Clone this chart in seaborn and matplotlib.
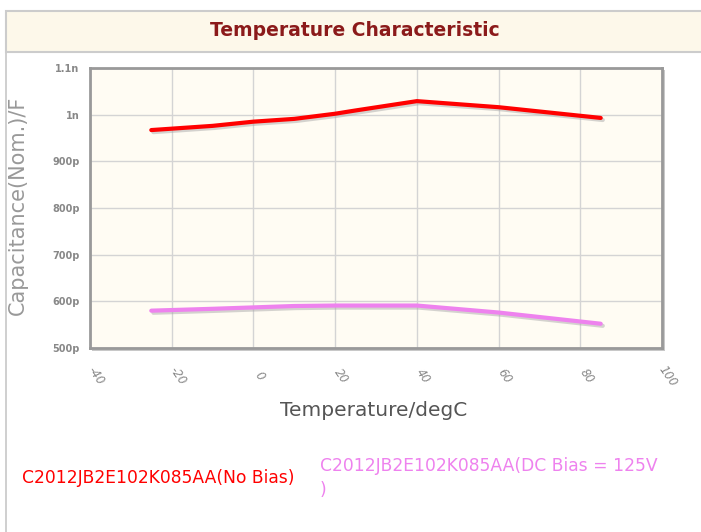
import numpy as np
import pandas as pd
import matplotlib
matplotlib.use("Agg")
import matplotlib.pyplot as plt
import matplotlib.patheffects as pe
import matplotlib.transforms as mtransforms
from matplotlib.patches import Rectangle
import seaborn as sns

# ===============================
# DATA
# ===============================
temps = [-25, -10, 0, 10, 20, 25, 40, 60, 85]
cap_no_bias = [967, 976, 985, 991, 1002, 1009, 1029, 1016, 993]      # pF
cap_dc_bias = [580, 584, 587, 590, 591, 591, 591, 576, 552]          # pF

series_names = ["C2012JB2E102K085AA(No Bias)",
                "C2012JB2E102K085AA(DC Bias = 125V\n)"]
series_colors = ["#ff0000", "#ee82ee"]

x_ticks = [-40, -20, 0, 20, 40, 60, 80, 100]
y_ticks = [500, 600, 700, 800, 900, 1000, 1100]
y_tick_labels = ["500p", "600p", "700p", "800p", "900p", "1n", "1.1n"]

df = pd.concat([
    pd.DataFrame({"temp": temps, "cap": cap_no_bias, "series": series_names[0]}),
    pd.DataFrame({"temp": temps, "cap": cap_dc_bias, "series": series_names[1]}),
])

# ===============================
# FIGURE
# ===============================
sns.set_style("white")
plt.rcParams["font.family"] = ["DejaVu Sans"]

W, H = 701, 532
fig = plt.figure(figsize=(W / 100, H / 100), dpi=100)


def px(x0, y0, w, h):
    # pixel box -> figure fraction
    return [x0 / W, 1 - (y0 + h) / H, w / W, h / H]


def add_box(box, **kw):
    r = Rectangle((box[0], box[1]), box[2], box[3], transform=fig.transFigure, zorder=-5, **kw)
    fig.patches.append(r)


# outer frame + title band
add_box(px(5, 10, 2, 522), facecolor="#d0d0d0", edgecolor="none")
add_box(px(6, 11, 700, 41), facecolor="#fdf8ea", edgecolor="#cccccc", linewidth=1.5)
fig.text(355 / W, 1 - 31 / H, "Temperature Characteristic", ha="center", va="center",
         fontsize=13.5, fontweight="bold", color="#8b1a1a")

# axes shadow
add_box(px(92, 70, 573, 281), facecolor="#c8c8c8", edgecolor="none")

ax = fig.add_axes(px(90, 68, 572, 280))
ax.set_facecolor("#fffcf3")

sns.lineplot(data=df, x="temp", y="cap", hue="series", palette=series_colors,
             linewidth=3, legend=False, ax=ax,
             path_effects=[pe.SimpleLineShadow(offset=(1.5, -1.5), shadow_color="#aaaaaa", alpha=0.5),
                           pe.Normal()])

ax.set_xlim(-40, 100)
ax.set_ylim(500, 1100)
ax.set_xticks(x_ticks)
ax.set_yticks(y_ticks)
ax.set_yticklabels(y_tick_labels)
ax.set_xticklabels([str(t) for t in x_ticks])
ax.grid(True, color="#d4d4d4", linewidth=1)
ax.set_axisbelow(True)

for s in ax.spines.values():
    s.set_color("#999999")
    s.set_linewidth(2)

ax.tick_params(axis="both", length=4, width=1, color="#aaaaaa", direction="out",
               labelsize=7, labelcolor="#888888")
ax.tick_params(axis="x", labelsize=8.5, pad=16)
for lab in ax.get_yticklabels():
    lab.set_fontweight("bold")
shift = mtransforms.ScaledTranslation(6 / 100, 0, fig.dpi_scale_trans)
for lab in ax.get_xticklabels():
    lab.set_rotation(-55)
    lab.set_rotation_mode("anchor")
    lab.set_ha("center")
    lab.set_va("center")
    lab.set_style("italic")
    lab.set_transform(lab.get_transform() + shift)

ax.set_xlabel("")
ax.set_ylabel("")
fig.text(18 / W, 1 - 205 / H, "Capacitance(Nom.)/F", rotation=90, ha="center", va="center",
         fontsize=15, color="#999999")
fig.text(374 / W, 1 - 411 / H, "Temperature/degC", ha="center", va="center",
         fontsize=14.5, color="#555555")

# legend texts
fig.text(22 / W, 1 - 478 / H, series_names[0], ha="left", va="center",
         fontsize=12.3, color=series_colors[0])
fig.text(320 / W, 1 - 466 / H, "C2012JB2E102K085AA(DC Bias = 125V", ha="left", va="center",
         fontsize=12.3, color=series_colors[1])
fig.text(320 / W, 1 - 490 / H, ")", ha="left", va="center",
         fontsize=12.3, color=series_colors[1])

fig.savefig("out.png", dpi=100)
